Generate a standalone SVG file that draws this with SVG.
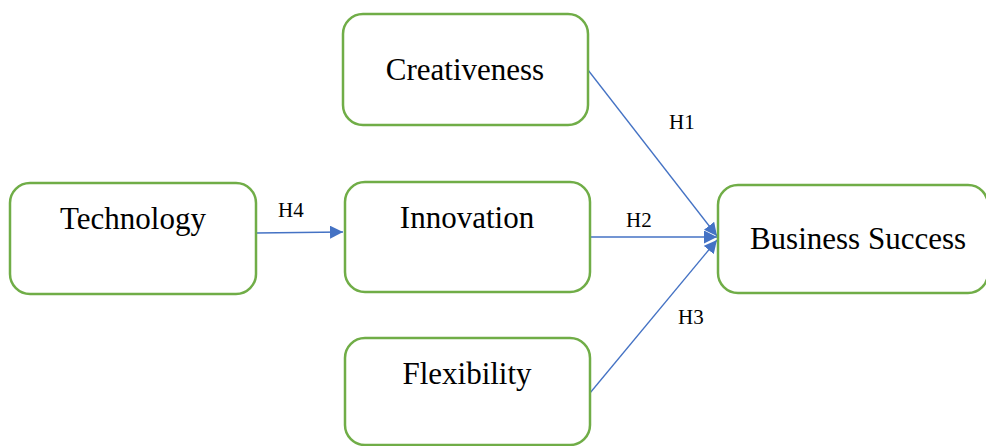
<svg xmlns="http://www.w3.org/2000/svg" width="986" height="446" viewBox="0 0 986 446">
<style>
.box{fill:#fff;stroke:#70AD47;stroke-width:2.5}
text{font-family:'Liberation Serif',serif;fill:#000}
.t{font-size:31px;text-anchor:middle}
.h{font-size:21px}
.c{stroke:#4472C4;stroke-width:1.3;fill:none;marker-end:url(#ah)}
</style>
<defs>
<marker id="ah" viewBox="0 0 10 10" refX="10" refY="5" markerWidth="13" markerHeight="13" markerUnits="userSpaceOnUse" orient="auto">
<path d="M0,0 L10,5 L0,10 z" fill="#4472C4"/>
</marker>
</defs>
<g id="connectors">
<line class="c" x1="256" y1="233" x2="343" y2="232"/>
<line class="c" x1="588" y1="70" x2="717" y2="236"/>
<line class="c" x1="591" y1="237" x2="717" y2="237"/>
<line class="c" x1="590" y1="393" x2="717" y2="240"/>
</g>
<g id="creativeness"><rect class="box" x="343" y="14" width="245" height="111" rx="20"/><text class="t" x="465" y="80">Creativeness</text></g>
<g id="technology"><rect class="box" x="10" y="183" width="246" height="111" rx="20"/><text class="t" x="133" y="229">Technology</text></g>
<g id="innovation"><rect class="box" x="345" y="182" width="245" height="110" rx="20"/><text class="t" x="467" y="228">Innovation</text></g>
<g id="flexibility"><rect class="box" x="345" y="338" width="245" height="107" rx="20"/><text class="t" x="467" y="384">Flexibility</text></g>
<g id="business-success"><rect class="box" x="718" y="185" width="270" height="108" rx="20"/><text class="t" x="858" y="249">Business Success</text></g>
<g id="labels">
<text class="h" x="669" y="129">H1</text>
<text class="h" x="626" y="227">H2</text>
<text class="h" x="678" y="324">H3</text>
<text class="h" x="278" y="217">H4</text>
</g>
</svg>
